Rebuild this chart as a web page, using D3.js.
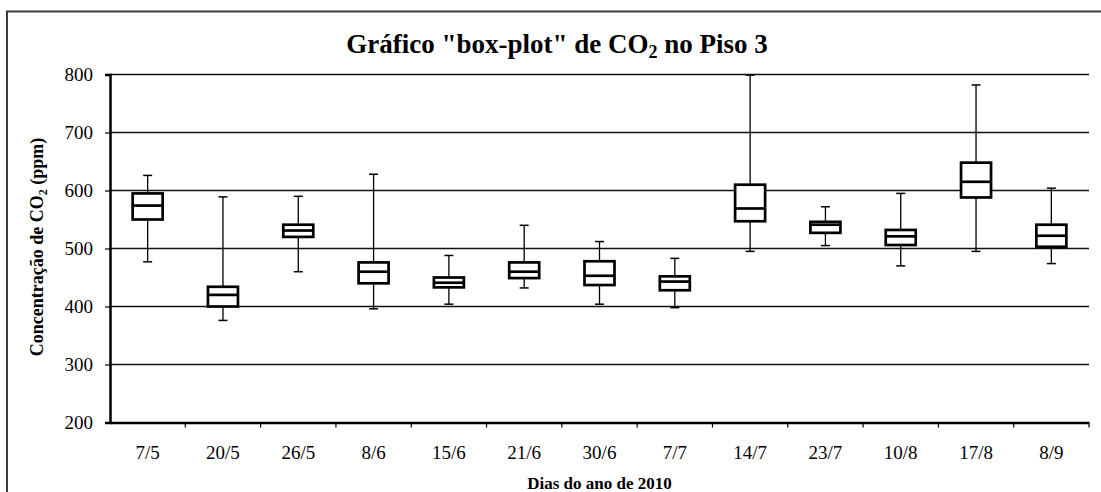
<!DOCTYPE html>
<html>
<head>
<meta charset="utf-8">
<script src="https://cdn.jsdelivr.net/npm/d3@7"></script>
<style>
  body { margin: 0; background: #fff; }
  svg text { font-family: "Liberation Serif", "Times New Roman", serif !important; }
</style>
</head>
<body>
<div id="chart"></div>
<script>
const width = 1101;
const height = 492;

// dias e estatisticas (ppm)
const days = ["7/5", "20/5", "26/5", "8/6", "15/6", "21/6", "30/6", "7/7", "14/7", "23/7", "10/8", "17/8", "8/9"];
const mins = [477, 376, 460, 396, 404, 432, 404, 398, 495, 505, 470, 495, 474];
const q1s = [550, 400, 520, 440, 433, 449, 437, 428, 547, 527, 506, 588, 503];
const medians = [574, 420, 531, 460, 441, 460, 453, 443, 569, 541, 521, 615, 522];
const q3s = [595, 434, 541, 476, 450, 476, 478, 452, 610, 546, 532, 648, 541];
const maxs = [626, 589, 590, 628, 488, 540, 512, 483, 799, 572, 595, 782, 604];
const yTicks = [200, 300, 400, 500, 600, 700, 800];

const boxes = days.map((d, i) => ({
  day: d, min: mins[i], q1: q1s[i], med: medians[i], q3: q3s[i], max: maxs[i]
}));

const plotLeft = 110, plotRight = 1089, plotTop = 74.5, plotBottom = 422.5;
const serif = "'Liberation Serif', 'Times New Roman', serif";

const svg = d3.select("#chart")
  .append("svg")
  .attr("width", width)
  .attr("height", height)
  .attr("font-family", serif);

// moldura do grafico
svg.append("rect")
  .attr("x", 7).attr("y", 11.5)
  .attr("width", 1110).attr("height", 500)
  .attr("fill", "none")
  .attr("stroke", "#3a3a3a")
  .attr("stroke-width", 2);

const x = d3.scaleBand().domain(days).range([plotLeft, plotRight]).padding(0);
const y = d3.scaleLinear().domain([200, 800]).range([plotBottom, plotTop]);

// linhas de grade
svg.append("g")
  .selectAll("line")
  .data(yTicks.filter(t => t > 200))
  .enter()
  .append("line")
  .attr("x1", plotLeft).attr("x2", plotRight)
  .attr("y1", d => y(d)).attr("y2", d => y(d))
  .attr("stroke", "#111")
  .attr("stroke-width", 1.4);

// eixo y
const yAxis = d3.axisLeft(y).tickValues(yTicks).tickSize(5).tickPadding(12).tickFormat(d3.format("d"));
const gy = svg.append("g")
  .attr("transform", "translate(" + plotLeft + ",0)")
  .call(yAxis)
  .attr("font-family", serif)
  .attr("font-size", 19);
gy.select(".domain").attr("stroke", "#000").attr("stroke-width", 2.5);
gy.selectAll(".tick line").attr("stroke", "#000").attr("stroke-width", 1.2);
gy.selectAll(".tick text").attr("fill", "#000");

// eixo x
const xAxis = d3.axisBottom(x).tickSize(0).tickPadding(23);
const gx = svg.append("g")
  .attr("transform", "translate(0," + plotBottom + ")")
  .call(xAxis)
  .attr("font-family", serif)
  .attr("font-size", 19);
gx.select(".domain").attr("stroke", "#000").attr("stroke-width", 2.5);
gx.selectAll(".tick text").attr("fill", "#000");

// marcas entre categorias
svg.append("g")
  .selectAll("line")
  .data(days.slice(1).concat(["end"]))
  .enter()
  .append("line")
  .attr("x1", d => d === "end" ? plotRight : x(d))
  .attr("x2", d => d === "end" ? plotRight : x(d))
  .attr("y1", plotBottom).attr("y2", plotBottom + 5)
  .attr("stroke", "#000").attr("stroke-width", 1.2);

// caixas
const boxW = 30, capW = 9;
const g = svg.append("g")
  .selectAll("g")
  .data(boxes)
  .enter()
  .append("g")
  .attr("transform", d => "translate(" + (x(d.day) + x.bandwidth() / 2) + ",0)");

g.append("line")
  .attr("y1", d => y(d.max)).attr("y2", d => y(d.q3))
  .attr("stroke", "#000").attr("stroke-width", 1.3);
g.append("line")
  .attr("y1", d => y(d.q1)).attr("y2", d => y(d.min))
  .attr("stroke", "#000").attr("stroke-width", 1.3);
g.append("line")
  .attr("x1", -capW / 2).attr("x2", capW / 2)
  .attr("y1", d => y(d.max)).attr("y2", d => y(d.max))
  .attr("stroke", "#000").attr("stroke-width", 1.5);
g.append("line")
  .attr("x1", -capW / 2).attr("x2", capW / 2)
  .attr("y1", d => y(d.min)).attr("y2", d => y(d.min))
  .attr("stroke", "#000").attr("stroke-width", 1.5);
g.append("rect")
  .attr("x", -boxW / 2).attr("width", boxW)
  .attr("y", d => y(d.q3))
  .attr("height", d => y(d.q1) - y(d.q3))
  .attr("fill", "#fff")
  .attr("stroke", "#000").attr("stroke-width", 2.7);
g.append("line")
  .attr("x1", -boxW / 2).attr("x2", boxW / 2)
  .attr("y1", d => y(d.med)).attr("y2", d => y(d.med))
  .attr("stroke", "#000").attr("stroke-width", 2.7);

// titulo
const title = svg.append("text")
  .attr("x", 557).attr("y", 53)
  .attr("text-anchor", "middle")
  .attr("font-size", 27).attr("font-weight", "bold");
title.append("tspan").text("Gráfico \"box-plot\" de CO");
title.append("tspan").attr("font-size", 18).attr("dy", 5).text("2");
title.append("tspan").attr("dy", -5).text(" no Piso 3");

// titulo eixo y
const yt = svg.append("text")
  .attr("transform", "translate(43,247) rotate(-90)")
  .attr("text-anchor", "middle")
  .attr("font-size", 18).attr("font-weight", "bold");
yt.append("tspan").text("Concentração de CO");
yt.append("tspan").attr("font-size", 12).attr("dy", 4).text("2");
yt.append("tspan").attr("dy", -4).text(" (ppm)");

// titulo eixo x
svg.append("text")
  .attr("x", (plotLeft + plotRight) / 2).attr("y", 489)
  .attr("text-anchor", "middle")
  .attr("font-size", 17).attr("font-weight", "bold")
  .text("Dias do ano de 2010");
</script>
</body>
</html>
